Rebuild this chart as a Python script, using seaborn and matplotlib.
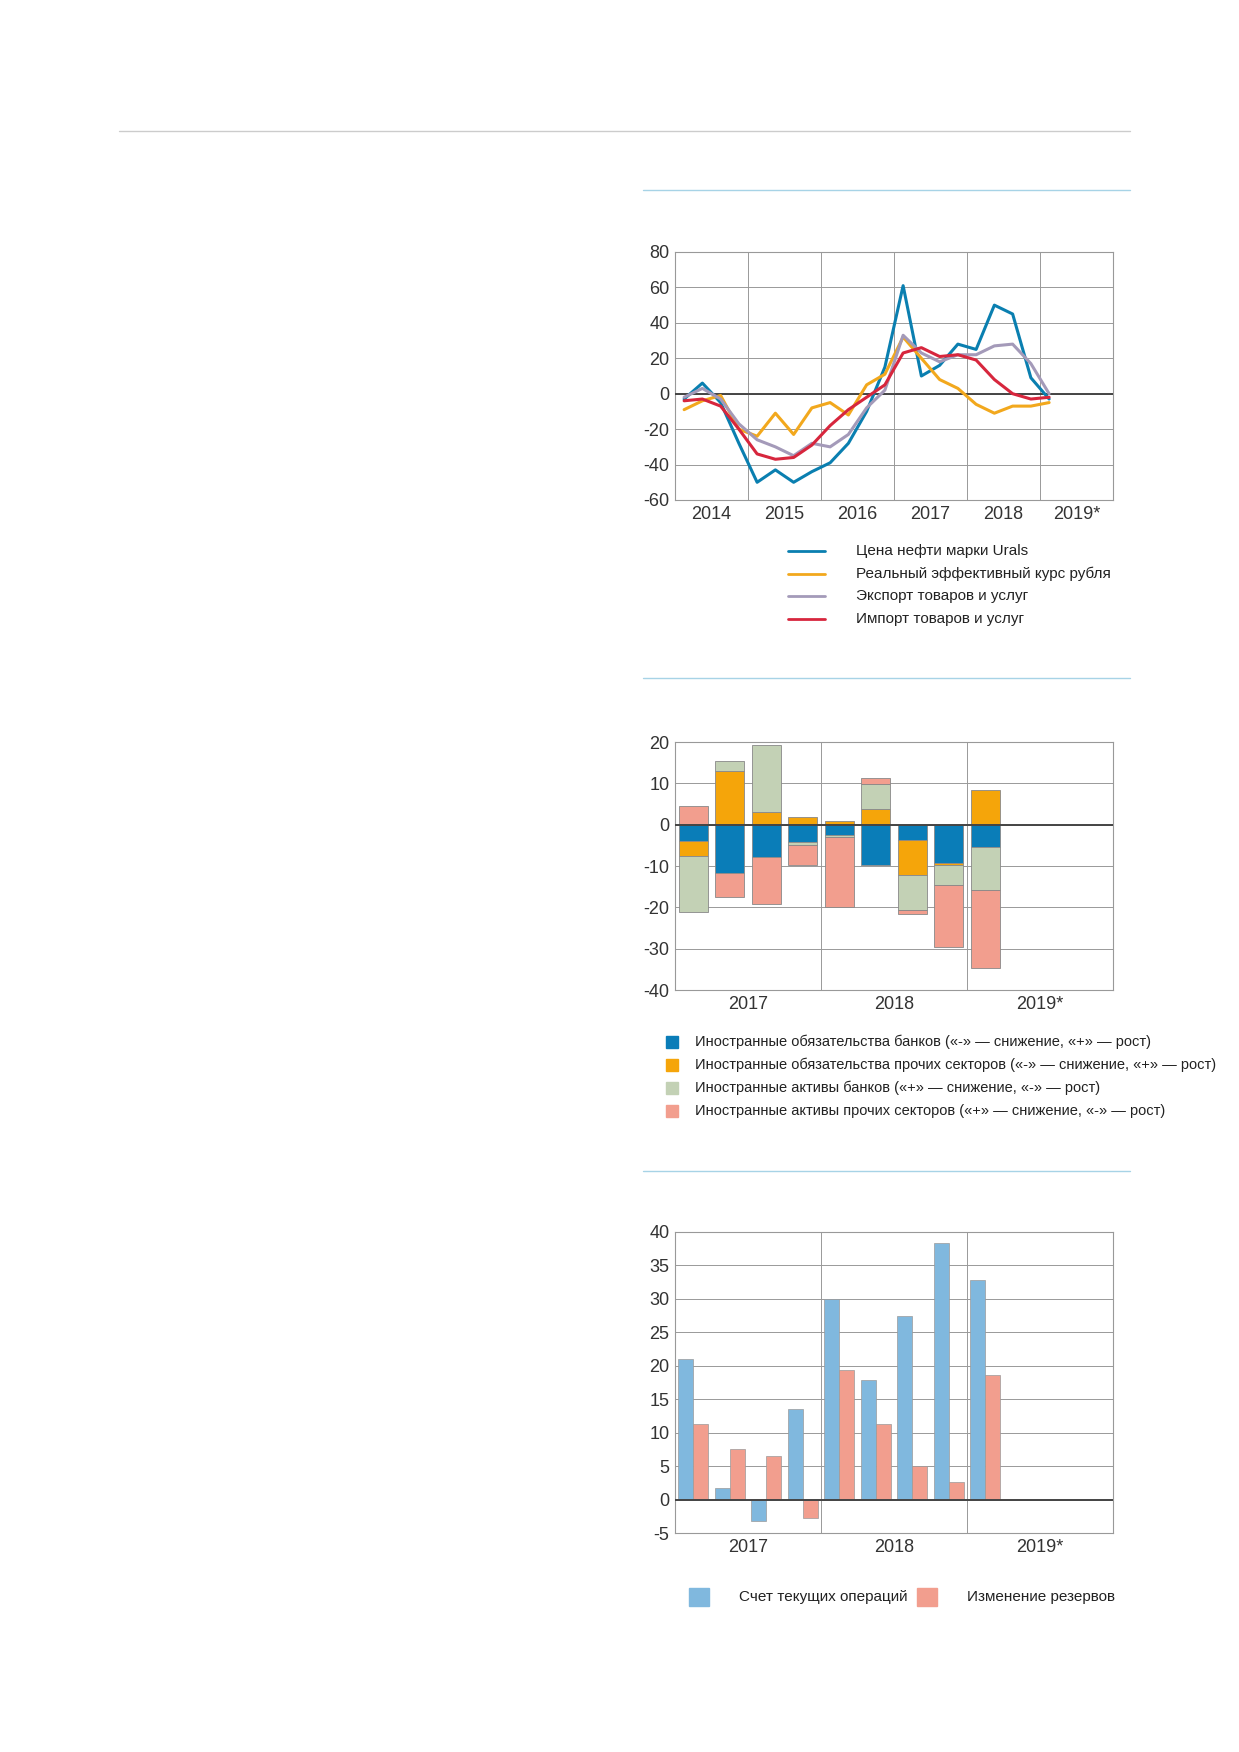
import numpy as np
import pandas as pd
import matplotlib
matplotlib.use("Agg")
import matplotlib.pyplot as plt
import seaborn as sns
from matplotlib.lines import Line2D
from matplotlib.patches import Rectangle

sns.set_style("white")
plt.rcParams["font.family"] = ["Liberation Sans Narrow", "Liberation Sans", "DejaVu Sans"]
plt.rcParams["axes.unicode_minus"] = False

# ---- data ----
years = ["2014", "2015", "2016", "2017", "2018", "2019*"]
urals = [-3, 6, -5, -28, -50, -43, -50, -44, -39, -28, -10, 15, 61, 10, 16, 28, 25, 50, 45, 9, -3]
reer = [-9, -4, -1, -20, -24, -11, -23, -8, -5, -12, 5, 11, 32, 20, 8, 3, -6, -11, -7, -7, -5]
exports = [-2, 3, -3, -17, -26, -30, -35, -28, -30, -23, -8, 2, 33, 23, 18, 22, 22, 27, 28, 17, 0]
imports = [-4, -3, -7, -20, -34, -37, -36, -29, -18, -9, -2, 5, 23, 26, 21, 22, 19, 8, 0, -3, -2]
line_names = ["Цена нефти марки Urals", "Реальный эффективный курс рубля",
              "Экспорт товаров и услуг", "Импорт товаров и услуг"]

years2 = ["2017", "2018", "2019*"]
quarters = ["2017Q1", "2017Q2", "2017Q3", "2017Q4", "2018Q1", "2018Q2", "2018Q3",
            "2018Q4", "2019Q1", "2019Q2", "2019Q3", "2019Q4"]
bank_liab = [-4, -11.8, -7.9, -4.3, -2.5, -9.7, -3.8, -9.2, -5.5]
other_liab = [-3.7, 13, 3, 1.8, 1, 3.9, -8.3, -0.6, 8.5]
bank_assets = [-13.5, 2.5, 16.3, -0.7, -0.4, 5.9, -8.6, -4.7, -10.4]
other_assets = [4.5, -5.6, -11.2, -4.7, -17.1, 1.5, -0.8, -15.2, -18.7]
flow_names = ["Иностранные обязательства банков («-» — снижение, «+» — рост)",
              "Иностранные обязательства прочих секторов («-» — снижение, «+» — рост)",
              "Иностранные активы банков («+» — снижение, «-» — рост)",
              "Иностранные активы прочих секторов («+» — снижение, «-» — рост)"]

current_account = [21, 1.7, -3.2, 13.5, 30, 17.8, 27.5, 38.4, 32.8]
reserves = [11.3, 7.5, 6.5, -2.7, 19.3, 11.3, 5, 2.6, 18.6]
bar_names = ["Счет текущих операций", "Изменение резервов"]

line_colors = ["#0a7fb0", "#f2a81d", "#a49ab9", "#d7263d"]
flow_colors = ["#0a7db8", "#f5a50a", "#c3d1b5", "#f29e8e"]
bar_colors = ["#80b8de", "#f29e8e"]

W, H = 1239, 1752
fig = plt.figure(figsize=(W / 100, H / 100), dpi=100)


def ax_px(l, t, r, b):
    return fig.add_axes([l / W, 1 - b / H, (r - l) / W, (b - t) / H])


def hline_px(x0, x1, y, color, lw=1.0):
    fig.add_artist(Line2D([x0 / W, x1 / W], [1 - y / H, 1 - y / H], color=color, lw=lw))


def style(ax, ylim, yticks, bounds, xticks, xlabels, xlim):
    ax.set_ylim(*ylim)
    ax.set_yticks(yticks)
    ax.set_xlim(*xlim)
    ax.set_xticks(xticks)
    ax.set_xticklabels(xlabels)
    ax.set_xlabel("")
    ax.set_ylabel("")
    ax.tick_params(axis="both", labelsize=13, length=0, colors="#333333", pad=4)
    for y in yticks:
        ax.axhline(y, color="#999999", lw=0.7, zorder=0)
    for x in bounds:
        ax.axvline(x, color="#999999", lw=0.7, zorder=0)
    ax.axhline(0, color="#444444", lw=1.4, zorder=5)
    for s in ax.spines.values():
        s.set_color("#999999")
        s.set_linewidth(0.8)
    if ax.get_legend():
        ax.get_legend().remove()


hline_px(119, 1130, 131, "#cccccc")
for y in (190, 678, 1171):
    hline_px(643, 1130, y, "#a7d3e6")

# ---- chart 1 ----
ax1 = ax_px(675, 252, 1113, 500)
n = len(urals)
df1 = pd.DataFrame({"q": np.tile(np.arange(n), 4),
                    "v": urals + reer + exports + imports,
                    "s": np.repeat(line_names, n)})
sns.lineplot(data=df1, x="q", y="v", hue="s", palette=line_colors, lw=2.2, ax=ax1, zorder=6)
style(ax1, (-60, 80), range(-60, 81, 20), [3.5 + 4 * i for i in range(5)],
      [1.5 + 4 * i for i in range(6)], years, (-0.5, 23.5))

for i, (name, c) in enumerate(zip(line_names, line_colors)):
    y = 551 + i * 22.5
    fig.add_artist(Line2D([788 / W, 825 / W], [1 - y / H] * 2, color=c, lw=2))
    fig.text(856 / W, 1 - y / H, name, fontsize=11, va="center", color="#222222")

# ---- chart 2 ----
ax2 = ax_px(675, 742, 1113, 990)
nb = len(bank_liab)
pos = np.zeros(nb)
neg = np.zeros(nb)
for vals, c in zip([bank_liab, other_liab, bank_assets, other_assets], flow_colors):
    vals = np.array(vals, dtype=float)
    bottom = np.where(vals >= 0, pos, neg)
    sns.barplot(x=quarters[:nb], y=vals, order=quarters, color=c, width=0.8, saturation=1,
                bottom=bottom, edgecolor="#888888", linewidth=0.6, ax=ax2, zorder=3)
    pos = pos + np.clip(vals, 0, None)
    neg = neg + np.clip(vals, None, 0)
style(ax2, (-40, 20), range(-40, 21, 10), [3.5, 7.5], [1.5, 5.5, 9.5], years2, (-0.5, 11.5))

for i, (name, c) in enumerate(zip(flow_names, flow_colors)):
    y = 1042 + i * 23
    fig.add_artist(Rectangle((666 / W, 1 - (y + 6) / H), 12 / W, 12 / H, color=c))
    fig.text(695 / W, 1 - y / H, name, fontsize=10.5, va="center", color="#222222")

# ---- chart 3 ----
ax3 = ax_px(675, 1232, 1113, 1533)
df3 = pd.DataFrame({"q": quarters[:nb] * 2, "v": current_account + reserves,
                    "s": np.repeat(bar_names, nb)})
sns.barplot(data=df3, x="q", y="v", hue="s", order=quarters, palette=bar_colors, saturation=1,
            width=0.82, edgecolor="#9a9a9a", linewidth=0.5, ax=ax3, zorder=3)
style(ax3, (-5, 40), range(-5, 41, 5), [3.5, 7.5], [1.5, 5.5, 9.5], years2, (-0.5, 11.5))

for x0, name, c in [(689, bar_names[0], bar_colors[0]), (917, bar_names[1], bar_colors[1])]:
    fig.add_artist(Rectangle((x0 / W, 1 - 1606 / H), 20 / W, 18 / H, color=c))
    fig.text((x0 + 50) / W, 1 - 1597 / H, name, fontsize=11, va="center", color="#222222")

fig.savefig("out.png", dpi=100)
